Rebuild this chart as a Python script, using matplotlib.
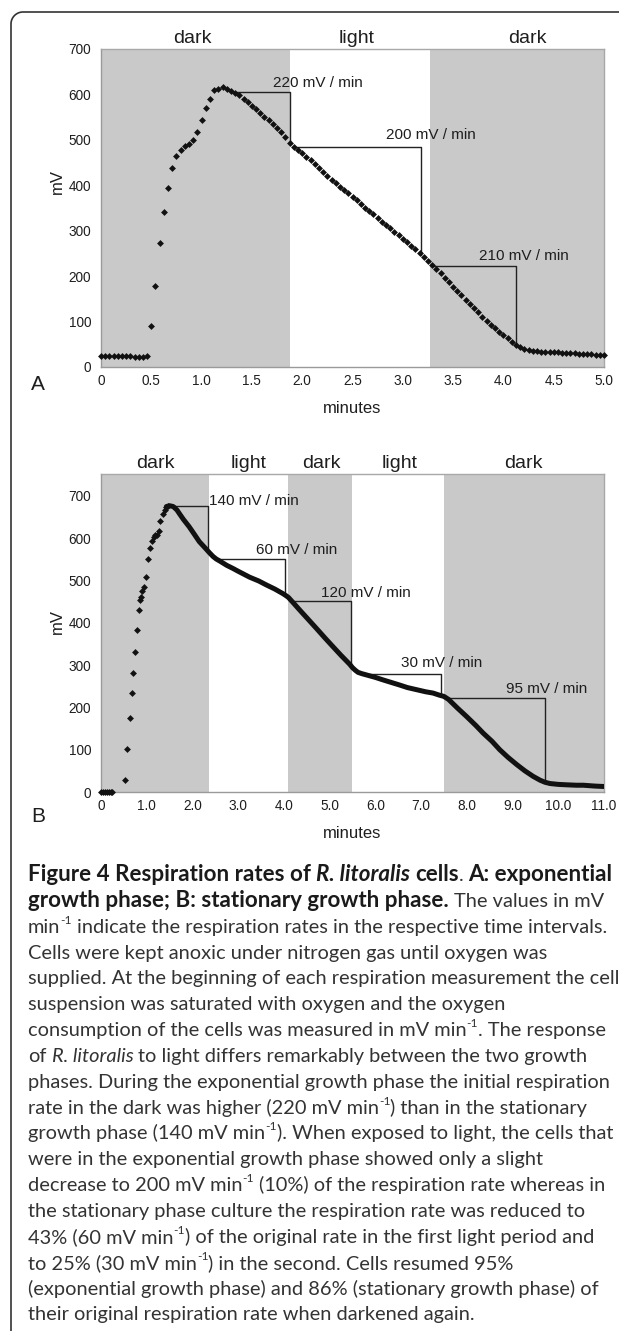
import numpy as np
import matplotlib.pyplot as plt

W, H = 619, 1331

# ---------------- data ----------------
# panel A: one reading every 2.5 s
dt_a = 2.5 / 60
mv_a = [25, 25, 25, 25, 25, 24, 24, 24, 23, 22, 21, 24,
        91, 179, 273, 341, 395, 437, 464, 478, 486, 491, 500, 517,
        544, 570, 591, 610, 613, 616, 613, 608,
        604, 598, 590, 583, 575, 567, 559, 551, 543, 534, 526, 517, 506,
        493, 485, 478, 471, 463, 455, 447, 439, 430, 421, 412, 405, 397,
        390, 382, 374, 367, 359, 351, 343, 336, 328, 320, 313, 305, 298,
        290, 282, 275, 267, 259, 251, 243, 234, 225, 215, 206, 196, 187,
        177, 167, 158, 148, 139, 129, 120, 111, 102, 93, 85, 77, 70, 63,
        56, 49, 43, 40, 38, 36, 35, 34, 33, 33, 32, 32, 31, 31, 30, 30,
        29, 29, 28, 28, 27, 27, 27]
t_a = np.arange(len(mv_a)) * dt_a

dark_a = [(0, 1.88), (3.27, 5.0)]
phase_a = ["dark", "light", "dark"]
phase_a_x = [0.905, 2.545, 4.235]

rate_a_text = ["220 mV / min", "200 mV / min", "210 mV / min"]
rate_a_x0 = [1.33, 1.93, 3.30]
rate_a_x1 = [1.88, 3.18, 4.13]
rate_a_top = [605, 485, 223]
rate_a_bot = [493, 247, 48]
rate_a_tx = [1.71, 2.83, 3.76]
rate_a_ty = [616, 502, 235]

# panel B: separate dots during the rise, then a dense trace
t_b_dots = [0, 0.04, 0.08, 0.13, 0.17, 0.21, 0.25, 0.53, 0.575, 0.625,
            0.667, 0.708, 0.75, 0.792, 0.833, 0.86, 0.875, 0.905, 0.93,
            0.98, 1.03, 1.07, 1.11, 1.15, 1.19, 1.22, 1.26, 1.3, 1.345,
            1.39, 1.43, 1.47]
mv_b_dots = [0, 0, 0, 0, 0, 0, 0, 28, 101, 174, 235, 282, 332, 382, 430,
             455, 462, 475, 484, 508, 550, 577, 594, 604, 607, 608, 618,
             640, 657, 668, 675, 677]
t_b_line = [1.43, 1.5, 1.58, 1.66, 1.71, 1.8, 1.93, 2.05, 2.15, 2.27,
            2.37, 2.45, 2.52, 2.6, 2.66, 2.75, 2.88, 3.0, 3.25, 3.45,
            3.61, 3.8, 3.98, 4.05, 4.1, 4.2, 4.34, 4.5, 4.71, 4.9, 5.07,
            5.25, 5.44, 5.5, 5.56, 5.62, 5.7, 5.8, 6.0, 6.17, 6.35, 6.53,
            6.7, 6.9, 7.1, 7.26, 7.4, 7.5, 7.6, 7.8, 7.99, 8.2, 8.36,
            8.55, 8.72, 8.9, 9.09, 9.27, 9.45, 9.6, 9.71, 9.82, 10.0,
            10.18, 10.4, 10.55, 10.8, 11.0]
mv_b_line = [675, 677, 675, 667, 659, 645, 627, 608, 592, 578, 566, 557,
             551, 546, 542, 536, 529, 522, 508, 499, 490, 480, 469, 464,
             460, 448, 431, 412, 387, 364, 344, 323, 302, 294, 288, 283,
             280, 277, 271, 265, 259, 253, 247, 242, 237, 234, 229, 226,
             219, 198, 179, 157, 139, 120, 100, 82, 65, 50, 37, 28, 23,
             20, 18, 17, 16, 16, 14, 13]

dark_b = [(0, 2.36), (4.08, 5.49), (7.50, 11.0)]
phase_b = ["dark", "light", "dark", "light", "dark"]
phase_b_x = [1.2, 3.23, 4.83, 6.52, 9.23]

rate_b_text = ["140 mV / min", "60 mV / min", "120 mV / min",
               "30 mV / min", "95 mV / min"]
rate_b_x0 = [1.60, 2.58, 4.20, 5.80, 7.55]
rate_b_x1 = [2.34, 4.03, 5.46, 7.44, 9.72]
rate_b_top = [676, 551, 452, 279, 223]
rate_b_bot = [576, 466, 297, 231, 23]
rate_b_tx = [2.37, 3.39, 4.82, 6.55, 8.85]
rate_b_ty = [679, 563, 461, 296, 235]

xt_a = [0, 0.5, 1.0, 1.5, 2.0, 2.5, 3.0, 3.5, 4.0, 4.5, 5.0]
xl_a = ["0", "0.5", "1.0", "1.5", "2.0", "2.5", "3.0", "3.5", "4.0", "4.5", "5.0"]
xt_b = list(range(12))
xl_b = ["0"] + ["%d.0" % v for v in range(1, 12)]
yt = [0, 100, 200, 300, 400, 500, 600, 700]

caption = [
    [("Figure 4 Respiration rates of ", "b"), ("R. litoralis", "bi"),
     (" cells", "b"), (". ", "n"), ("A: exponential", "b")],
    [("growth phase; B: stationary growth phase.", "b"), (" The values in mV", "n")],
    [("min", "n"), ("-1", "sup"),
     (" indicate the respiration rates in the respective time intervals.", "n")],
    [("Cells were kept anoxic under nitrogen gas until oxygen was", "n")],
    [("supplied. At the beginning of each respiration measurement the cell", "n")],
    [("suspension was saturated with oxygen and the oxygen", "n")],
    [("consumption of the cells was measured in mV min", "n"), ("-1", "sup"),
     (". The response", "n")],
    [("of ", "n"), ("R. litoralis", "i"),
     (" to light differs remarkably between the two growth", "n")],
    [("phases. During the exponential growth phase the initial respiration", "n")],
    [("rate in the dark was higher (220 mV min", "n"), ("-1", "sup"),
     (") than in the stationary", "n")],
    [("growth phase (140 mV min", "n"), ("-1", "sup"),
     ("). When exposed to light, the cells that", "n")],
    [("were in the exponential growth phase showed only a slight", "n")],
    [("decrease to 200 mV min", "n"), ("-1", "sup"),
     (" (10%) of the respiration rate whereas in", "n")],
    [("the stationary phase culture the respiration rate was reduced to", "n")],
    [("43% (60 mV min", "n"), ("-1", "sup"),
     (") of the original rate in the first light period and", "n")],
    [("to 25% (30 mV min", "n"), ("-1", "sup"), (") in the second. Cells resumed 95%", "n")],
    [("(exponential growth phase) and 86% (stationary growth phase) of", "n")],
    [("their original respiration rate when darkened again.", "n")],
]

# ---------------- figure ----------------
plt.rcParams['font.family'] = ['Liberation Sans', 'DejaVu Sans']
fig = plt.figure(figsize=(W / 100, H / 100), dpi=100)

# pixel-space background axes for frame, labels and caption
bg = fig.add_axes([0, 0, 1, 1])
bg.set_xlim(0, W)
bg.set_ylim(H, 0)
bg.axis('off')

r = 12
th = np.linspace(np.pi, 1.5 * np.pi, 30)
fx = [11] + list(11 + r + r * np.cos(th)) + [W]
fy = [H] + list(12 + r + r * np.sin(th)) + [12]
bg.plot(fx, fy, color='#333333', lw=1.2, clip_on=False)

TXT = '#1e1e1e'
SHADE = '#c9c9c9'


def panel(top_px, xmax, ymax, xt, xl, dark, ph, ph_x, rt, x0, x1, ytop, ybot, tx, ty):
    ax = fig.add_axes([101 / W, 1 - (top_px + 318) / H, 503 / W, 318 / H])
    for a, b in dark:
        ax.axvspan(a, b, color=SHADE, lw=0, zorder=0)
    ax.set_xlim(0, xmax)
    ax.set_ylim(0, ymax)
    ax.set_xticks(xt)
    ax.set_xticklabels(xl)
    ax.set_yticks(yt)
    ax.tick_params(axis='both', length=0, labelsize=9.8, colors=TXT)
    ax.tick_params(axis='x', pad=5)
    ax.tick_params(axis='y', pad=7)
    for s in ax.spines.values():
        s.set_color('#a8a8a8')
        s.set_linewidth(1)
    for s in ['left', 'bottom']:
        ax.spines[s].set_color('#9a9a9a')
    for lab, xc in zip(ph, ph_x):
        ax.text(xc, 1 + 6 / 318, lab, transform=ax.get_xaxis_transform(),
                ha='center', va='baseline', fontsize=14, color=TXT)
    for t, a, b, yt0, yb, px, py in zip(rt, x0, x1, ytop, ybot, tx, ty):
        ax.plot([a, b, b], [yt0, yt0, yb], color='#222222', lw=1.0, zorder=2)
        ax.text(px, py, t, fontsize=11, color=TXT, va='baseline', ha='left')
    return ax


axA = panel(49, 5.0, 700, xt_a, xl_a, dark_a, phase_a, phase_a_x,
            rate_a_text, rate_a_x0, rate_a_x1, rate_a_top, rate_a_bot,
            rate_a_tx, rate_a_ty)
axA.plot(t_a, mv_a, 'D', ms=3.5, color='#111111', mew=0, zorder=3, clip_on=False)

axB = panel(474, 11.0, 752, xt_b, xl_b, dark_b, phase_b, phase_b_x,
            rate_b_text, rate_b_x0, rate_b_x1, rate_b_top, rate_b_bot,
            rate_b_tx, rate_b_ty)
axB.plot(t_b_dots, mv_b_dots, 'D', ms=3.5, color='#111111', mew=0, zorder=3, clip_on=False)
axB.plot(t_b_line, mv_b_line, '-', lw=3.6, color='#111111', zorder=3,
         solid_capstyle='round', solid_joinstyle='round')

# axis titles and panel letters
bg.text(57, 182, 'mV', rotation=90, ha='center', va='center', fontsize=12, color=TXT)
bg.text(57, 622, 'mV', rotation=90, ha='center', va='center', fontsize=12, color=TXT)
bg.text(352, 413, 'minutes', ha='center', va='baseline', fontsize=12, color=TXT)
bg.text(352, 838, 'minutes', ha='center', va='baseline', fontsize=12, color=TXT)
bg.text(31, 390, 'A', ha='left', va='baseline', fontsize=15, color=TXT)
bg.text(31, 822, 'B', ha='left', va='baseline', fontsize=15, color=TXT)

# caption, drawn run by run
CAP_FONT = ['Lato', 'DejaVu Sans']
rend = fig.canvas.get_renderer()


def text_w(s, size, **kw):
    t = bg.text(0, 0, s, fontsize=size, family=CAP_FONT, **kw)
    w = t.get_window_extent(rend).width
    t.remove()
    return w


fs = 12 * 519 / text_w("Cells were kept anoxic under nitrogen gas until oxygen was", 12)
# bold face of the original is wider: fit the first heading line to its width
fs_b = fs * 590 / text_w("Figure 4 Respiration rates of R. litoralis cells. A: exponential",
                         fs, fontweight='bold')
space_w = text_w("a a", fs) - text_w("aa", fs)
line0, pitch = 881, 25.85

for k, runs in enumerate(caption):
    y = line0 + k * pitch
    x = 28
    for s, kind in runs:
        size, dy = fs, 0
        weight = 'bold' if 'b' in kind else 'normal'
        style = 'italic' if 'i' in kind else 'normal'
        color = '#1a1a1a' if weight == 'bold' else '#333333'
        if weight == 'bold':
            size = fs_b
        if kind == 'sup':
            size = fs * 0.6
            dy = -fs * 0.45 * 100 / 72
        core = s.strip(' ')
        x += (len(s) - len(s.lstrip(' '))) * space_w
        t = bg.text(x, y + dy, core, fontsize=size, family=CAP_FONT, fontweight=weight,
                    fontstyle=style, color=color, ha='left', va='baseline')
        x += t.get_window_extent(rend).width
        x += (len(s) - len(s.rstrip(' '))) * space_w

fig.savefig('out.png', dpi=100)
